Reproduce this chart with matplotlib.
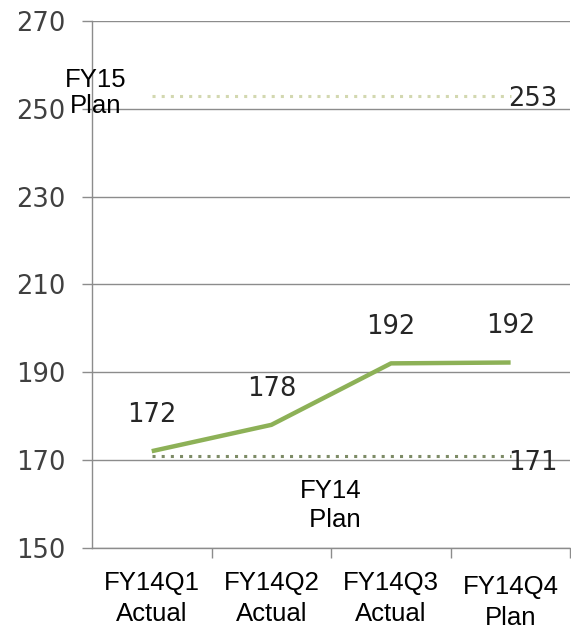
import matplotlib.pyplot as plt

# data
quarters = ["FY14Q1\nActual", "FY14Q2\nActual", "FY14Q3\nActual", "FY14Q4\nPlan"]
values = [172, 178, 192, 192.2]
value_labels = ["172", "178", "192", "192"]
fy15_plan = 253
fy14_plan = 171
y_ticks = [150, 170, 190, 210, 230, 250, 270]

fig = plt.figure(figsize=(5.71, 6.34), dpi=100)
ax = fig.add_axes([0.161, 0.136, 0.838, 0.831])

x = list(range(len(quarters)))

# plan lines (dotted)
ax.plot(x, [fy15_plan] * len(x), color="#d3d8b0", lw=2.2, linestyle=(0, (1, 2)), zorder=3)
ax.plot(x, [fy14_plan] * len(x), color="#7d8b66", lw=2.2, linestyle=(0, (1, 2)), zorder=3)

# actual / plan line
ax.plot(x, values, color="#8db157", lw=3.2, solid_capstyle="butt", zorder=4)

for xi, v, lab in zip(x, values, value_labels):
    ax.annotate(lab, (xi, v), xytext=(0, 26), textcoords="offset points",
                ha="center", va="center", fontsize=18.5, color="#262626",
                family="DejaVu Sans")

ax.text(2.98, fy15_plan - 0.8, "253", fontsize=18.5, color="#262626", ha="left", va="center",
        family="DejaVu Sans", zorder=5)
ax.text(2.98, fy14_plan - 1.8, "171", fontsize=18.5, color="#262626", ha="left", va="center",
        family="DejaVu Sans", zorder=5)

ax.text(-0.47, 253.6, "FY15\nPlan", fontsize=18.5, ha="center", va="center",
        family="Liberation Sans", linespacing=1.1, clip_on=False, zorder=5)
ax.text(1.5, 159.6, "FY14\n Plan", fontsize=18.5, ha="center", va="center",
        family="Liberation Sans", linespacing=1.25, zorder=5)

# axes styling
ax.set_xlim(-0.5, 3.5)
ax.set_ylim(150, 270)
ax.set_yticks(y_ticks)
ax.set_yticklabels([str(t) for t in y_ticks], fontsize=18.5, color="#404040", family="DejaVu Sans")
ax.yaxis.grid(True, color="#8c8c8c", lw=1.0)
ax.set_axisbelow(True)

ax.set_xticks([])
ax.set_xticks([0.5, 1.5, 2.5, 3.5], minor=True)
ax.tick_params(axis="x", which="minor", length=7, color="#8c8c8c", width=1.0, direction="out")
ax.tick_params(axis="y", length=7, color="#8c8c8c", width=1.0, direction="out", pad=12)

for side in ["top", "right"]:
    ax.spines[side].set_visible(False)
for side in ["left", "bottom"]:
    ax.spines[side].set_color("#8c8c8c")
    ax.spines[side].set_linewidth(1.0)

# category labels, last one sits a bit lower
trans = ax.get_xaxis_transform()
label_y = [-0.045, -0.045, -0.045, -0.052]
for xi, q, ly in zip(x, quarters, label_y):
    ax.text(xi, ly, q, transform=trans, ha="center", va="top", fontsize=18.5,
            family="Liberation Sans", linespacing=1.35, clip_on=False)

fig.savefig("out.png", dpi=100)
